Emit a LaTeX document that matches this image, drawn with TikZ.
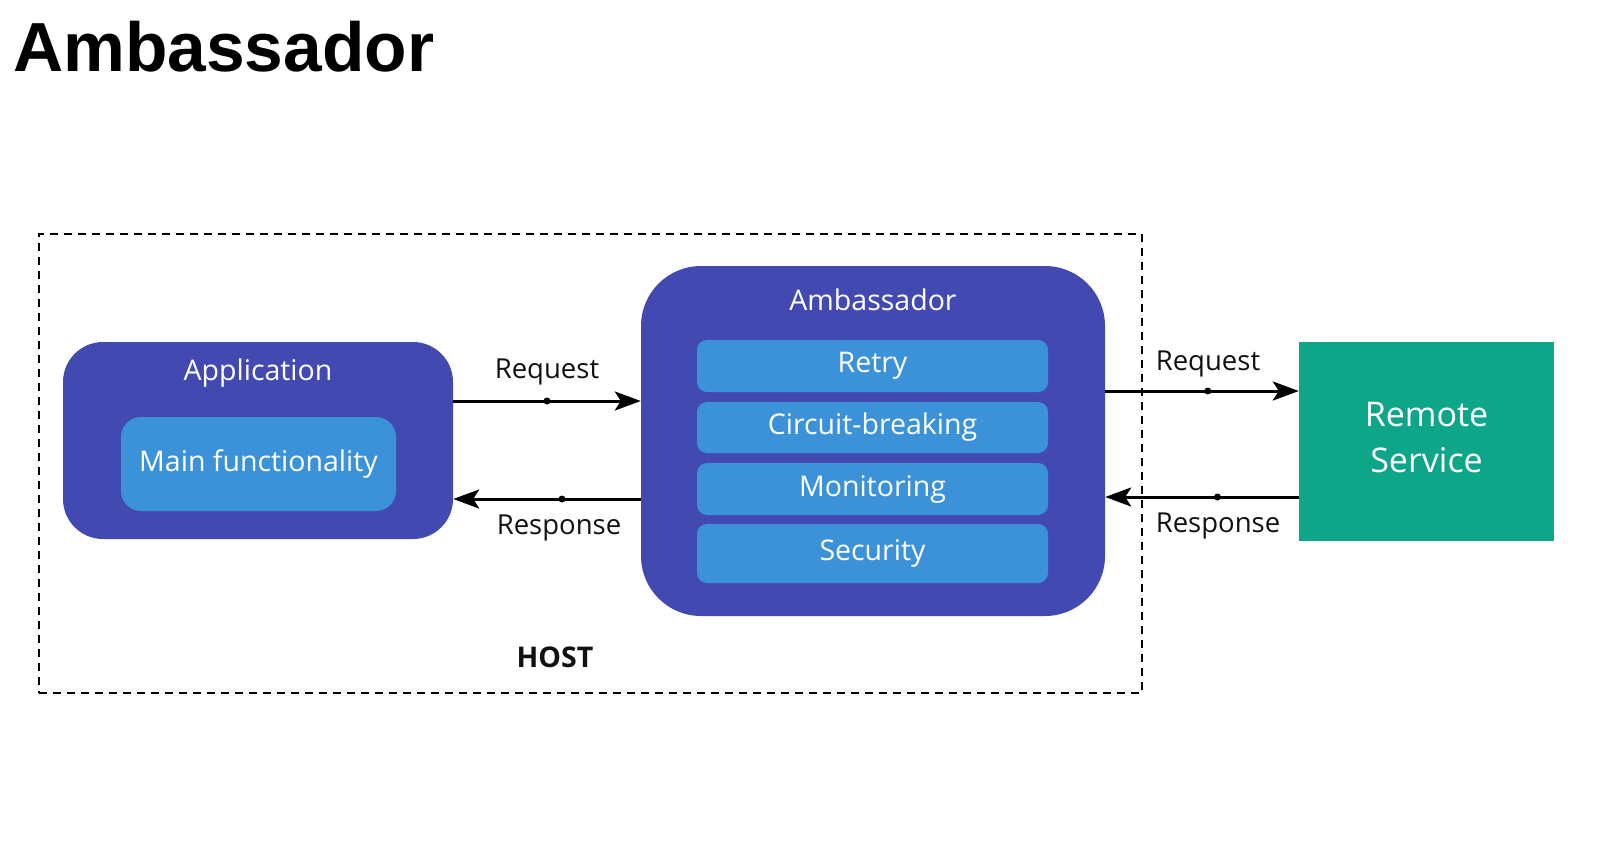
\documentclass[tikz,border=0pt]{standalone}
\usepackage{fontspec}
\setmainfont{Open Sans}
\newfontfamily\titlefont{Liberation Sans}
\usetikzlibrary{arrows.meta}
\definecolor{indigo}{RGB}{66,74,178}
\definecolor{skyblue}{RGB}{59,146,216}
\definecolor{teal}{RGB}{14,166,136}
\definecolor{ink}{RGB}{17,17,17}
\tikzset{
  outerbox/.style={fill=indigo, draw=none, inner sep=0pt},
  innerbox/.style={fill=skyblue, draw=none, inner sep=0pt, rounded corners=10pt,
    text=white, font=\fontsize{28.5}{34}\selectfont},
  boxtitle/.style={text=white, inner sep=0pt, font=\fontsize{28.5}{34}\selectfont},
  flowlabel/.style={text=ink, inner sep=0pt, font=\fontsize{27.5}{33}\selectfont},
  flow/.style={line width=3pt, draw=black, -{Stealth[length=26pt,width=19pt,inset=6pt]}},
  middot/.style={circle, fill=black, inner sep=0pt, minimum size=7pt},
}
\begin{document}
\begin{tikzpicture}[x=1pt,y=-1pt]
\useasboundingbox (0,0) rectangle (1600,852);
% title
\node[anchor=base west, inner sep=0pt, font=\titlefont\bfseries\fontsize{69.5}{80}\selectfont] (title) at (13,71) {Ambassador};
% host dashed box
\node[draw=black, line width=2pt, dash pattern=on 8pt off 6pt, inner sep=0pt,
  minimum width=1103pt, minimum height=459pt] (host) at (590.5,463.5) {};
\node[inner sep=0pt, text=ink, font=\bfseries\fontsize{28.5}{34}\selectfont] (hostlabel) at (555,657) {HOST};
% application
\node[outerbox, rounded corners=40pt, minimum width=390pt, minimum height=197pt] (app) at (258,440.5) {};
\node[boxtitle] (apptitle) at (258,373) {Application};
\node[innerbox, rounded corners=20pt, minimum width=275pt, minimum height=94pt] (mainf) at (258.5,464) {Main functionality};
% ambassador
\node[outerbox, rounded corners=60pt, minimum width=464pt, minimum height=350pt] (amb) at (873,441) {};
\node[boxtitle] (ambtitle) at (873,300) {Ambassador};
\node[innerbox, minimum width=351pt, minimum height=52pt] (retry) at (872.5,366) {Retry};
\node[innerbox, minimum width=351pt, minimum height=51pt] (circuit) at (872.5,427.5) {Circuit-breaking};
\node[innerbox, minimum width=351pt, minimum height=52pt] (monitor) at (872.5,489) {Monitoring};
\node[innerbox, minimum width=351pt, minimum height=59pt] (security) at (872.5,553.5) {Security};
% remote service
\node[fill=teal, inner sep=0pt, minimum width=255pt, minimum height=199pt, draw=none] (remote) at (1426.5,441.5) {};
\node[text=white, inner sep=0pt, align=center, font=\fontsize{34}{47}\selectfont] (remotetext) at (1426.5,438) {Remote\\[-1pt]Service};
% connectors
\draw[flow] ([yshift=39.5pt]app.east) -- node[middot, pos=0.5] (d1) {} ([yshift=40pt]amb.west);
\draw[flow] ([yshift=-58pt]amb.west) -- node[middot, pos=0.42] (d2) {} ([yshift=-58.5pt]app.east);
\draw[flow] ([yshift=50pt]amb.east) -- node[middot, pos=0.53] (d3) {} ([yshift=50.5pt]remote.west);
\draw[flow] ([yshift=-55.5pt]remote.west) -- node[middot, pos=0.42] (d4) {} ([yshift=-56pt]amb.east);
% labels
\node[flowlabel] (req1) at (547,372) {Request};
\node[flowlabel] (resp1) at (559,528) {Response};
\node[flowlabel] (req2) at (1208,364) {Request};
\node[flowlabel] (resp2) at (1218,526) {Response};
\end{tikzpicture}
\end{document}
